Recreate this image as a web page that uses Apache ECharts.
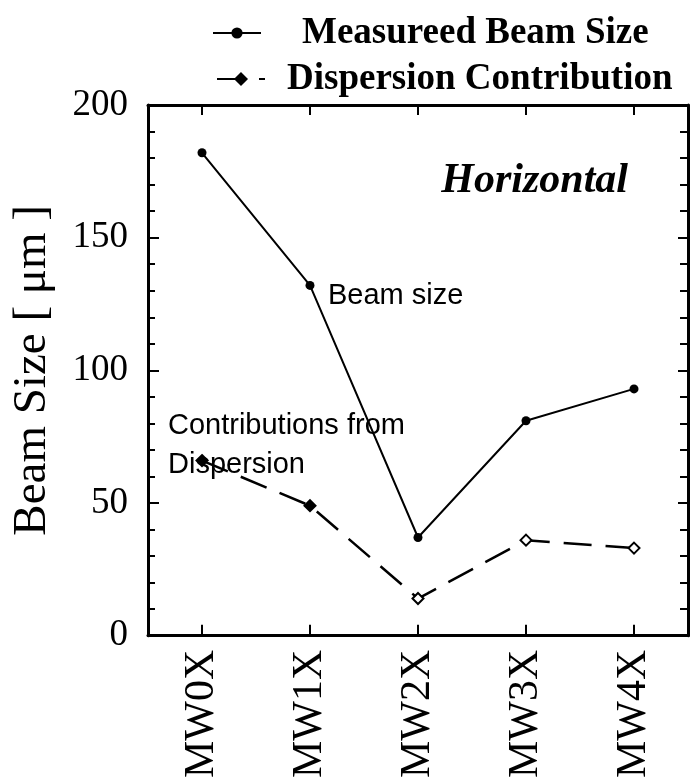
<!DOCTYPE html>
<html>
<head>
<meta charset="utf-8">
<script src="https://cdn.jsdelivr.net/npm/echarts@6/dist/echarts.min.js"></script>
<style>
  html, body { margin: 0; padding: 0; background: #fff; }
  #chart { width: 691px; height: 781px; }
</style>
</head>
<body>
<div id="chart"></div>
<script>
// Monitor stations along the beam line
const stations = ['MW0X', 'MW1X', 'MW2X', 'MW3X', 'MW4X'];
// Measured horizontal beam size [um]
const measuredSize = [182, 132, 37, 81, 93];
// Part of the beam size coming from dispersion [um]
const dispersionPart = [66, 49, 14, 36, 33];
// Y axis range and tick step
const yMin = 0;
const yMax = 200;
const yStep = 50;

const serif = '"Liberation Serif", "Times New Roman", serif';
const sans = '"Liberation Sans", Arial, Helvetica, sans-serif';
const ink = '#000';

const chart = echarts.init(document.getElementById('chart'), null, { renderer: 'canvas' });

const axisBase = {
  axisLine: { show: true, onZero: false, lineStyle: { color: ink, width: 3 } },
  splitLine: { show: false }
};

const option = {
  backgroundColor: '#fff',
  animation: false,
  grid: { left: 148, right: 3, top: 105, bottom: 142, containLabel: false },
  legend: [
    {
      left: 207, top: 8, itemWidth: 48, itemHeight: 14,
      data: [{ name: 'Measureed Beam Size' }],
      textStyle: { fontFamily: serif, fontWeight: 'bold', fontSize: 37, color: ink, padding: [0, 0, 0, 36], lineHeight: 40 }
    },
    {
      left: 211, top: 54, itemWidth: 48, itemHeight: 14,
      data: [{ name: 'Dispersion Contribution', itemStyle: { color: ink, borderColor: ink } }],
      textStyle: { fontFamily: serif, fontWeight: 'bold', fontSize: 37, color: ink, padding: [0, 0, 0, 17], lineHeight: 40 }
    }
  ],
  xAxis: [
    Object.assign({}, axisBase, {
      type: 'category', position: 'bottom', data: stations, boundaryGap: true,
      axisTick: { show: true, inside: true, alignWithLabel: true, length: 11, lineStyle: { color: ink, width: 2 } },
      axisLabel: { rotate: 90, fontFamily: serif, fontSize: 42, color: ink, margin: 14 }
    }),
    Object.assign({}, axisBase, {
      type: 'category', position: 'top', data: stations, boundaryGap: true,
      axisTick: { show: true, inside: true, alignWithLabel: true, length: 10, lineStyle: { color: ink, width: 2 } },
      axisLabel: { show: false }
    })
  ],
  yAxis: [
    Object.assign({}, axisBase, {
      type: 'value', position: 'left', min: yMin, max: yMax, interval: yStep,
      name: 'Beam Size [ \u03bcm ]', nameLocation: 'middle', nameGap: 92, nameRotate: 90,
      nameTextStyle: { fontFamily: serif, fontSize: 47, color: ink },
      axisTick: { show: true, inside: true, length: 11, lineStyle: { color: ink, width: 2 } },
      minorTick: { show: true, splitNumber: 5, length: 7, lineStyle: { color: ink, width: 2 } },
      axisLabel: { fontFamily: serif, fontSize: 37, color: ink, margin: 20 }
    }),
    Object.assign({}, axisBase, {
      type: 'value', position: 'right', min: yMin, max: yMax, interval: yStep,
      axisTick: { show: true, inside: true, length: 10, lineStyle: { color: ink, width: 2 } },
      minorTick: { show: true, splitNumber: 5, length: 8, lineStyle: { color: ink, width: 2 } },
      axisLabel: { show: false }
    })
  ],
  series: [
    {
      name: 'Measureed Beam Size',
      type: 'line',
      data: measuredSize,
      symbol: 'circle', symbolSize: 9,
      itemStyle: { color: ink },
      lineStyle: { color: ink, width: 2 }
    },
    {
      name: 'Dispersion Contribution',
      type: 'line',
      // the first two markers print solid, the rest open
      data: dispersionPart.map((v, i) => i < 2
        ? { value: v, itemStyle: { color: ink, borderColor: ink } }
        : v),
      symbol: 'diamond', symbolSize: [11, 11],
      itemStyle: { color: '#fff', borderColor: ink, borderWidth: 2 },
      lineStyle: { color: ink, width: 2.5, type: [28, 14] }
    }
  ],
  graphic: [
    {
      type: 'text', x: 628, y: 181,
      style: { text: 'Horizontal', fontFamily: serif, fontWeight: 'bold', fontStyle: 'italic', fontSize: 42, fill: ink, textAlign: 'right', textVerticalAlign: 'middle' }
    },
    {
      type: 'text', x: 328, y: 296,
      style: { text: 'Beam size', fontFamily: sans, fontSize: 29, fill: ink, textAlign: 'left', textVerticalAlign: 'middle' }
    },
    {
      type: 'text', x: 168, y: 426,
      style: { text: 'Contributions from', fontFamily: sans, fontSize: 29, fill: ink, textAlign: 'left', textVerticalAlign: 'middle' }
    },
    {
      type: 'text', x: 168, y: 465,
      style: { text: 'Dispersion', fontFamily: sans, fontSize: 29, fill: ink, textAlign: 'left', textVerticalAlign: 'middle' }
    }
  ]
};

chart.setOption(option);
</script>
</body>
</html>
